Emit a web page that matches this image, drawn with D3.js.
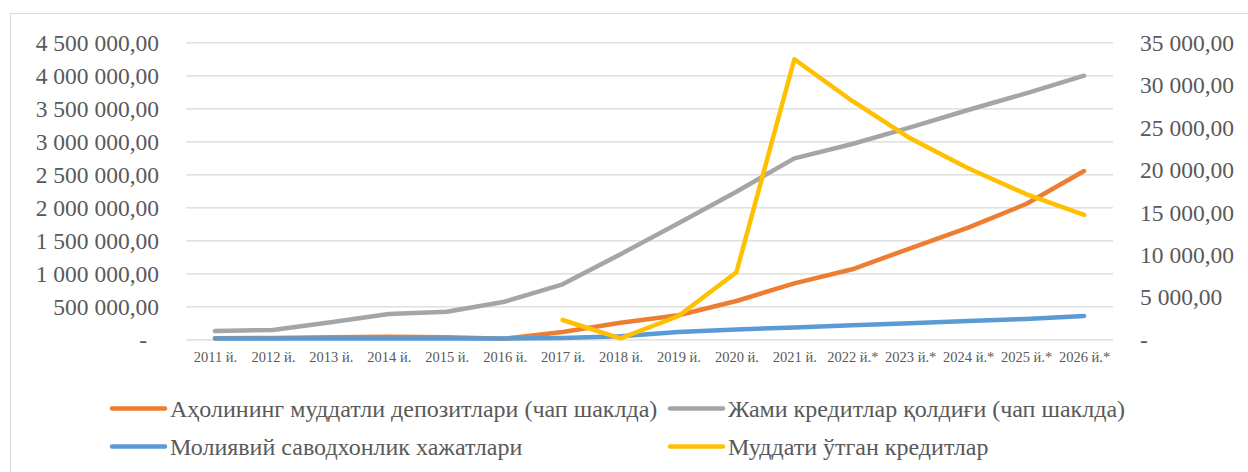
<!DOCTYPE html>
<html>
<head>
<meta charset="utf-8">
<script src="https://cdn.jsdelivr.net/npm/d3@7"></script>
<style>
  html, body { margin: 0; padding: 0; background: #fff; }
  svg text { font-family: "Liberation Serif", "Times New Roman", serif; fill: #595959; }
</style>
</head>
<body>
<div id="chart"></div>
<script>
// values
const years = ["2011 й.", "2012 й.", "2013 й.", "2014 й.", "2015 й.", "2016 й.", "2017 й.", "2018 й.",
  "2019 й.", "2020 й.", "2021 й.", "2022 й.*", "2023 й.*", "2024 й.*", "2025 й.*", "2026 й.*"];

// left axis
const deposits = [15000, 20000, 30000, 40000, 30000, 10000, 110000, 252000, 364000, 580000, 848000,
  1061000, 1379000, 1691000, 2050000, 2550000];
const loans = [126000, 141000, 257000, 383000, 418000, 570000, 833000, 1290000, 1757000, 2236000, 2742000,
  2959000, 3212000, 3474000, 3727000, 3994000];

// right axis
const literacy = [100, 100, 100, 100, 100, 100, 150, 350, 850, 1150, 1400, 1650, 1900, 2150, 2400, 2750];
const overdue = [null, null, null, null, null, null, 2275, 100, 2746, 7900, 33000, 28085, 23688, 20150, 17120, 14650];

const leftTicks = d3.range(0, 4500001, 500000);
const rightTicks = d3.range(0, 35001, 5000);

const series = [
  { name: "Аҳолининг муддатли депозитлари (чап шаклда)", values: deposits, axis: "left", color: "#ED7D31" },
  { name: "Жами кредитлар қолдиғи (чап шаклда)", values: loans, axis: "left", color: "#A5A5A5" },
  { name: "Молиявий саводхонлик хажатлари", values: literacy, axis: "right", color: "#5B9BD5" },
  { name: "Муддати ўтган кредитлар", values: overdue, axis: "right", color: "#FFC000" }
];

const W = 1248, H = 472;
const plot = { left: 186, right: 1113, top: 42.3, bottom: 339.3 };

const locale = d3.formatLocale({ decimal: ",", thousands: " ", grouping: [3], currency: ["", ""] });
const fmt = locale.format(",.2f");

const svg = d3.select("#chart")
  .append("svg")
  .attr("width", W)
  .attr("height", H);

// chart frame
svg.append("rect")
  .attr("x", 10.5).attr("y", 13.5)
  .attr("width", 1260).attr("height", 480)
  .attr("fill", "#fff")
  .attr("stroke", "#d9d9d9")
  .attr("stroke-width", 1);

const x = d3.scalePoint()
  .domain(years)
  .range([plot.left, plot.right])
  .padding(0.5);

const yL = d3.scaleLinear().domain([0, 4500000]).range([plot.bottom, plot.top]);
const yR = d3.scaleLinear().domain([0, 35000]).range([plot.bottom, plot.top]);

// gridlines
svg.append("g")
  .attr("transform", `translate(${plot.left}, 0)`)
  .call(d3.axisLeft(yL).tickValues(leftTicks).tickSize(-(plot.right - plot.left)).tickFormat(""))
  .call(g => g.select(".domain").remove())
  .call(g => g.selectAll(".tick line").attr("stroke", "#d9d9d9").attr("stroke-width", 1.3));

// left axis labels
svg.append("g")
  .attr("transform", `translate(${plot.left}, 0)`)
  .call(d3.axisLeft(yL).tickValues(leftTicks).tickSize(0).tickPadding(27)
    .tickFormat(d => d === 0 ? "-" : fmt(d)))
  .call(g => g.select(".domain").remove())
  .call(g => g.selectAll("text")
    .attr("font-size", 23.5)
    .attr("dy", "0.34em")
    .attr("dx", d => d === 0 ? -12 : 0));

// right axis labels
svg.append("g")
  .attr("transform", `translate(${plot.right}, 0)`)
  .call(d3.axisRight(yR).tickValues(rightTicks).tickSize(0).tickPadding(27)
    .tickFormat(d => d === 0 ? "-" : fmt(d)))
  .call(g => g.select(".domain").remove())
  .call(g => g.selectAll("text")
    .attr("font-size", 23.5)
    .attr("dy", "0.34em"));

// x axis labels
svg.append("g")
  .attr("transform", `translate(0, ${plot.bottom})`)
  .call(d3.axisBottom(x).tickSize(0).tickPadding(0))
  .call(g => g.select(".domain").remove())
  .call(g => g.selectAll("text")
    .attr("font-size", 14.5)
    .attr("y", 23)
    .attr("dy", 0));

// lines
series.forEach(s => {
  const y = s.axis === "left" ? yL : yR;
  const line = d3.line()
    .defined(d => d != null)
    .x((d, i) => x(years[i]))
    .y(d => y(d));
  svg.append("path")
    .datum(s.values)
    .attr("fill", "none")
    .attr("stroke", s.color)
    .attr("stroke-width", 4.5)
    .attr("stroke-linejoin", "round")
    .attr("stroke-linecap", "round")
    .attr("d", line);
});

// legend
const legendPos = [[112, 408.5], [670, 408.5], [112, 446.5], [670, 446.5]];
const legend = svg.selectAll(".legend")
  .data(series)
  .join("g")
  .attr("class", "legend")
  .attr("transform", (d, i) => `translate(${legendPos[i][0]}, ${legendPos[i][1]})`);

legend.append("line")
  .attr("x1", 0).attr("x2", 53)
  .attr("y1", 0).attr("y2", 0)
  .attr("stroke", d => d.color)
  .attr("stroke-width", 4.5)
  .attr("stroke-linecap", "round");

legend.append("text")
  .attr("x", 58)
  .attr("y", 0)
  .attr("dy", "0.36em")
  .attr("font-size", 24)
  .text(d => d.name);
</script>
</body>
</html>
